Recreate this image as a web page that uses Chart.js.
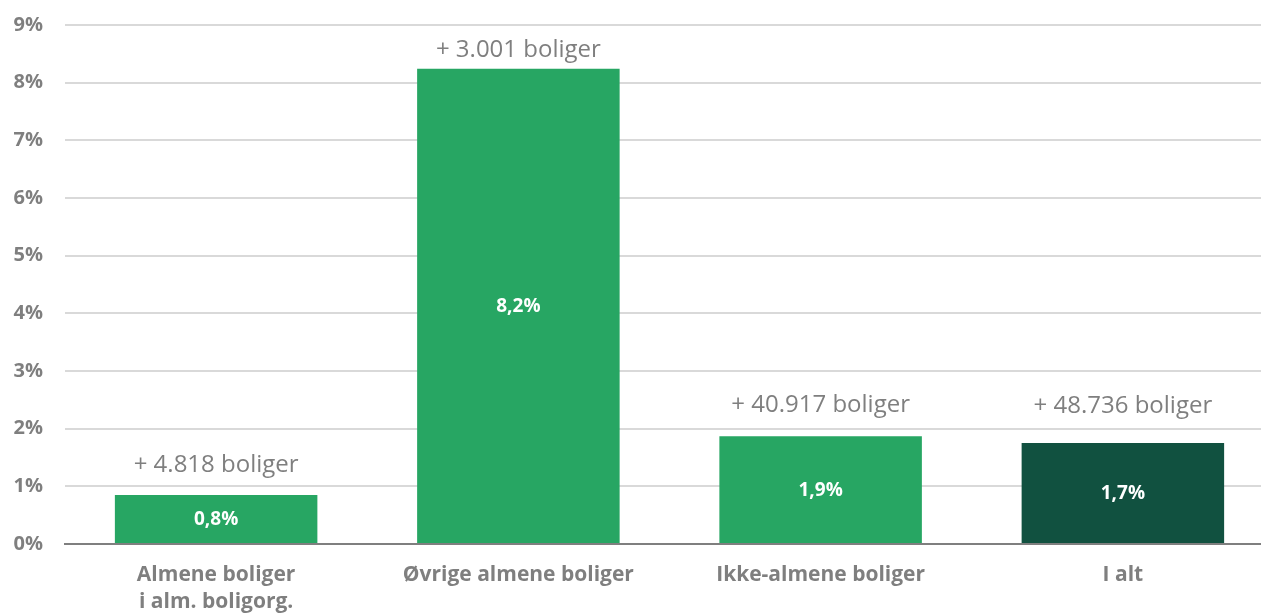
<!DOCTYPE html>
<html>
<head>
<meta charset="utf-8">
<script src="https://cdn.jsdelivr.net/npm/chart.js@4/dist/chart.umd.min.js"></script>
<style>
  html, body { margin: 0; padding: 0; background: #ffffff; overflow: hidden; }
  #wrap { position: relative; width: 1274px; height: 614px; }
</style>
</head>
<body>
<div id="wrap"><canvas id="c"></canvas></div>
<script>
const categories = [["Almene boliger", "i alm. boligorg."], "Øvrige almene boliger", "Ikke-almene boliger", "I alt"];
const growthPct = [0.85, 8.24, 1.87, 1.75];
const pctLabels = ["0,8%", "8,2%", "1,9%", "1,7%"];
const dwellingLabels = ["+ 4.818 boliger", "+ 3.001 boliger", "+ 40.917 boliger", "+ 48.736 boliger"];
const yTicks = [0, 1, 2, 3, 4, 5, 6, 7, 8, 9];

const FONT = "'Open Sans', 'Noto Sans', sans-serif";
const GRAY = "#7f7f7f";

const labelPlugin = {
  id: "barLabels",
  afterDatasetsDraw(chart, args, opts) {
    const ctx = chart.ctx;
    const meta = chart.getDatasetMeta(0);
    meta.data.forEach((bar, i) => {
      const top = bar.y, base = bar.base;
      ctx.save();
      ctx.textAlign = "center";
      ctx.textBaseline = "middle";
      ctx.fillStyle = "#ffffff";
      ctx.font = "bold 19px " + FONT;
      ctx.fillText(pctLabels[i], bar.x, (top + base) / 2 + 1);
      ctx.fillStyle = GRAY;
      ctx.font = "24px " + FONT;
      ctx.fillText(dwellingLabels[i], bar.x, top - opts.gaps[i]);
      ctx.restore();
    });
  }
};

new Chart(document.getElementById("c"), {
  type: "bar",
  data: {
    labels: categories,
    datasets: [{
      data: growthPct,
      backgroundColor: ["#27a663", "#27a663", "#27a663", "#115140"],
      borderWidth: 0,
      categoryPercentage: 1,
      barPercentage: 0.67
    }]
  },
  options: {
    responsive: true,
    maintainAspectRatio: false,
    animation: false,
    layout: { padding: { left: 12, top: 0, right: 0, bottom: 0 } },
    plugins: {
      legend: { display: false },
      tooltip: { enabled: false },
      barLabels: { gaps: [30, 19, 31, 37] }
    },
    scales: {
      x: {
        afterFit(s) { s.height = 70; },
        grid: { display: false, drawTicks: false },
        border: { display: true, color: "#7f7f7f", width: 2 },
        ticks: {
          color: GRAY,
          font: { family: FONT, size: 21, weight: "bold", lineHeight: 1.29 },
          padding: 17,
          maxRotation: 0,
          autoSkip: false
        }
      },
      y: {
        afterFit(s) { s.width = 53; s.paddingTop = 25; s.paddingBottom = 0; },
        min: 0,
        max: 9,
        afterBuildTicks(scale) { scale.ticks = yTicks.map(v => ({ value: v })); },
        grid: { color: "#d9d9d9", lineWidth: 2, drawTicks: false },
        border: { display: false },
        ticks: {
          color: GRAY,
          font: { family: FONT, size: 20, weight: "bold" },
          padding: 22,
          callback: v => v + "%"
        }
      }
    }
  },
  plugins: [labelPlugin]
});
</script>
</body>
</html>
